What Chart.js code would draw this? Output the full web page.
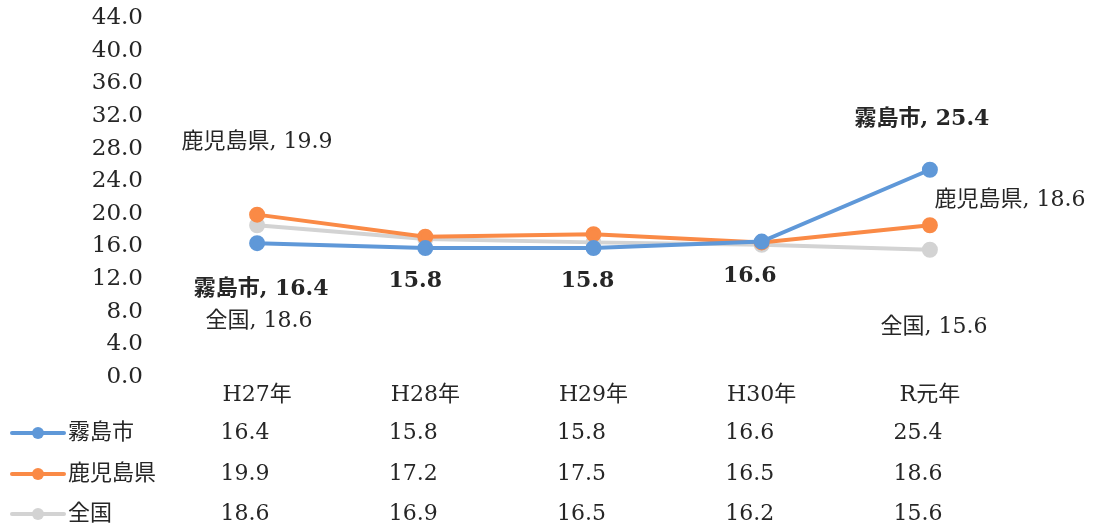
<!DOCTYPE html>
<html lang="ja">
<head>
<meta charset="UTF-8">
<title>霧島市・鹿児島県・全国の推移</title>
<script src="https://cdn.jsdelivr.net/npm/chart.js"></script>
<style>
  html, body { margin: 0; padding: 0; background: #fff; }
  #wrap { width: 1099px; height: 528px; position: relative; }
</style>
</head>
<body>
<div id="wrap"><canvas id="lineChart"></canvas></div>
<script>
// data
const categories = ['H27年', 'H28年', 'H29年', 'H30年', 'R元年'];
const kirishima = [16.4, 15.8, 15.8, 16.6, 25.4];
const kagoshima = [19.9, 17.2, 17.5, 16.5, 18.6];
const zenkoku = [18.6, 16.9, 16.5, 16.2, 15.6];
const seriesNames = ['霧島市', '鹿児島県', '全国'];
const yTicks = [0, 4, 8, 12, 16, 20, 24, 28, 32, 36, 40, 44];

const FONT = '"DejaVu Serif", "Noto Sans CJK JP", serif';
const colors = ['#5f98d8', '#fa8a46', '#d3d3d3'];

// where the data labels sit relative to their point: [seriesIdx, pointIdx, dx, dy, withName]
const labelSpots = [
  [0, 0, 4, 46, true], [0, 1, -10, 33, false], [0, 2, -6, 33, false],
  [0, 3, -12, 35, false], [0, 4, -8, -50, true],
  [1, 0, 0, -72, true], [1, 4, 80, -25, true],
  [2, 0, 2, 96, true], [2, 4, 4, 78, true]
];

// data labels + table under the axis
const extras = {
  id: 'extras',
  afterDatasetsDraw(chart) {
    const c = chart.ctx;
    const x = chart.scales.x, y = chart.scales.y;
    c.save();
    c.textAlign = 'center';
    c.textBaseline = 'middle';
    c.fillStyle = '#262626';
    labelSpots.forEach(([s, i, dx, dy, withName]) => {
      const v = chart.data.datasets[s].data[i];
      const px = x.getPixelForValue(i), py = y.getPixelForValue(v);
      const txt = (withName ? seriesNames[s] + ', ' : '') + v.toFixed(1);
      c.font = (s === 0 ? 'bold ' : '') + '22px ' + FONT;
      c.fillText(txt, px + dx, py + dy);
    });

    // data table
    const rowY = [433, 474, 514];
    chart.data.datasets.forEach((ds, s) => {
      const ry = rowY[s];
      c.strokeStyle = colors[s];
      c.lineWidth = 4;
      c.lineCap = 'round';
      c.beginPath();
      c.moveTo(12, ry);
      c.lineTo(64, ry);
      c.stroke();
      c.fillStyle = colors[s];
      c.beginPath();
      c.arc(38, ry, 6, 0, Math.PI * 2);
      c.fill();
      c.fillStyle = '#262626';
      c.textAlign = 'left';
      c.font = '22px ' + FONT;
      c.fillText(seriesNames[s], 68, ry);
      c.textAlign = 'center';
      ds.data.forEach((v, i) => {
        c.fillText(v.toFixed(1), x.getPixelForValue(i) - 12, ry);
      });
    });
    c.restore();
  }
};

const mkSet = (name, vals, col) => ({
  label: name,
  data: vals,
  borderColor: col,
  backgroundColor: col,
  borderWidth: 4,
  pointRadius: 6,
  pointHoverRadius: 6,
  pointBackgroundColor: col,
  pointBorderColor: col,
  tension: 0,
  fill: false
});

const ctx = document.getElementById('lineChart').getContext('2d');
const lineChart = new Chart(ctx, {
  type: 'line',
  data: {
    labels: categories,
    datasets: [
      mkSet(seriesNames[0], kirishima, colors[0]),
      mkSet(seriesNames[1], kagoshima, colors[1]),
      mkSet(seriesNames[2], zenkoku, colors[2])
    ]
  },
  options: {
    responsive: true,
    maintainAspectRatio: false,
    animation: false,
    layout: { padding: { top: 18, right: 85, left: 0, bottom: 0 } },
    plugins: { legend: { display: false }, tooltip: { enabled: false } },
    scales: {
      x: {
        offset: true,
        grid: { display: false, drawTicks: false },
        border: { display: false },
        ticks: { color: '#262626', font: { family: FONT, size: 22 }, padding: 5 },
        afterFit(scale) { scale.height = 151; }
      },
      y: {
        min: 0,
        max: 44,
        afterBuildTicks(scale) { scale.ticks = yTicks.map(v => ({ value: v })); },
        grid: { display: false, drawTicks: false },
        border: { display: false },
        ticks: {
          color: '#262626',
          font: { family: FONT, size: 23 },
          padding: 30,
          autoSkip: false,
          callback: v => v.toFixed(1)
        },
        afterFit(scale) {
          scale.width = 173;
          scale.paddingTop = 0;
          scale.paddingBottom = 0;
        }
      }
    }
  },
  plugins: [extras]
});
</script>
</body>
</html>
